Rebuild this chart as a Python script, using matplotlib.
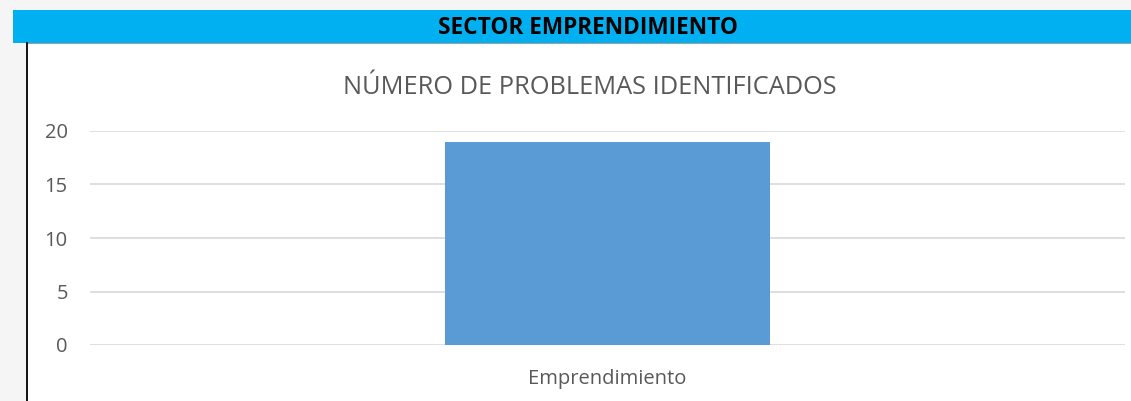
import matplotlib
matplotlib.use("Agg")
import matplotlib.pyplot as plt
from matplotlib.patches import Rectangle
from matplotlib.lines import Line2D

categories = ["Emprendimiento"]
values = [19]
yticks = [0, 5, 10, 15, 20]
banner_text = "SECTOR EMPRENDIMIENTO"
title_text = "NÚMERO DE PROBLEMAS IDENTIFICADOS"

W, H = 1131, 401
fig = plt.figure(figsize=(W / 100, H / 100), dpi=100)
fig.patch.set_facecolor("#f5f5f5")

def fx(px):
    return px / W

def fy(py):
    return 1 - py / H

# white chart panel
fig.patches.append(Rectangle((fx(27), 0), 1 - fx(27), fy(43), transform=fig.transFigure,
                             facecolor="white", edgecolor="none", zorder=-5))
# banner
fig.patches.append(Rectangle((fx(13), fy(43)), 1 - fx(13), fy(10) - fy(43), transform=fig.transFigure,
                             facecolor="#00b0f0", edgecolor="none", zorder=-4))
fig.lines.append(Line2D([fx(27), 1], [fy(43), fy(43)], transform=fig.transFigure,
                        color="#a0a0a0", lw=0.8, zorder=-3))
# left black border
fig.lines.append(Line2D([fx(26.5), fx(26.5)], [0, fy(43)], transform=fig.transFigure,
                        color="black", lw=1.3, zorder=-3))

fig.text(fx(588), fy(28), banner_text, ha="center", va="center", fontsize=16.3,
         fontweight="bold", color="black", family="Open Sans")
fig.text(fx(590), fy(87), title_text, ha="center", va="center", fontsize=18.3,
         color="#595959", family="Open Sans")

ax = fig.add_axes([fx(90), fy(345), fx(1125) - fx(90), fy(131) - fy(345)])
ax.set_facecolor("none")
x = list(range(len(categories)))
ax.bar(x, values, width=0.314, color="#5b9bd5", zorder=3)
ax.set_xlim(-0.5, len(categories) - 0.5)
ax.set_ylim(0, 20)
ax.set_yticks(yticks)
ax.set_yticklabels([str(t) for t in yticks], fontsize=14.5, color="#595959", family="Open Sans")
ax.set_xticks(x)
ax.set_xticklabels(categories, fontsize=14.5, color="#595959", family="Open Sans")
ax.tick_params(axis="both", length=0)
ax.tick_params(axis="y", pad=16)
ax.tick_params(axis="x", pad=17)
ax.grid(axis="y", color="#d9d9d9", lw=1.2, zorder=0)
for s in ax.spines.values():
    s.set_visible(False)

fig.savefig("out.png", dpi=100, facecolor=fig.get_facecolor())
